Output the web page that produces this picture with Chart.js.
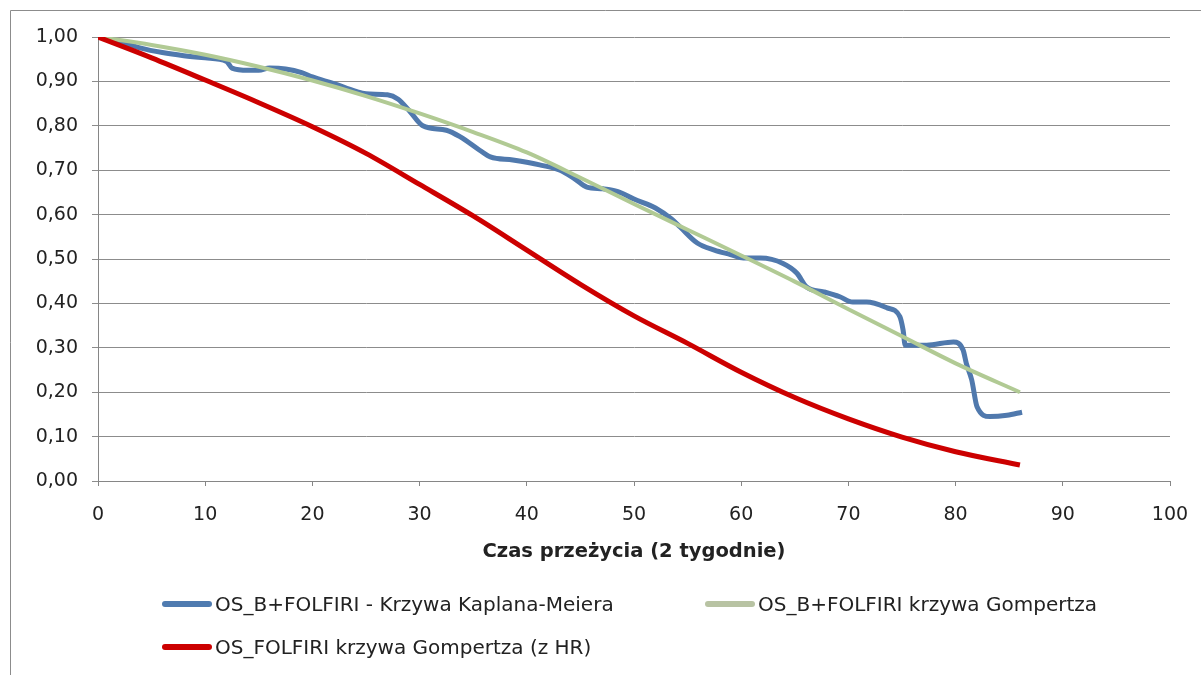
<!DOCTYPE html>
<html>
<head>
<meta charset="utf-8">
<script src="https://cdn.jsdelivr.net/npm/chart.js@4"></script>
<style>
  body { margin: 0; background: #fff; }
  #wrap { position: relative; width: 1201px; height: 675px; }
  #legend { position: absolute; left: 0; top: 0; font-family: 'DejaVu Sans', sans-serif; font-size: 20px; color: #222; }
  .item { position: absolute; display: flex; align-items: center; white-space: nowrap; }
  .swatch { width: 50px; height: 6px; border-radius: 3px; margin-right: 3px; }
</style>
</head>
<body>
<div id="wrap">
  <canvas id="survival" width="1201" height="675"></canvas>
  <div id="legend"></div>
</div>
<script>
// Kaplan-Meier OS for B+FOLFIRI
const kmTime = [0, 2, 4, 6, 8, 10, 12, 12.5, 14, 15, 16, 17.5, 19, 20, 22, 24, 25, 27, 28, 29, 30.3,
  32.5, 33.8, 35.6, 36.6, 38.7, 41.2, 43.1, 44.5, 45.6, 47.1, 48.5, 50, 52, 53.5, 54.3, 55.9, 57.5,
  59, 60.2, 61.8, 63.9, 65.2, 66.1, 67.7, 69.2, 70.4, 71.7, 73.6, 74.8, 75.1, 75.3, 77.3, 79.8,
  80.7, 81, 81.5, 82, 83.2, 84.8, 86.2];
const kmSurv = [1.00, 0.99, 0.975, 0.965, 0.958, 0.953, 0.945, 0.93, 0.925, 0.925, 0.93, 0.928, 0.92, 0.91,
  0.895, 0.878, 0.872, 0.87, 0.86, 0.835, 0.80, 0.79, 0.775, 0.745, 0.73, 0.723, 0.712, 0.70, 0.68,
  0.662, 0.658, 0.652, 0.635, 0.615, 0.59, 0.572, 0.536, 0.52, 0.51, 0.502, 0.502, 0.49, 0.468, 0.437,
  0.426, 0.415, 0.403, 0.403, 0.39, 0.37, 0.34, 0.306, 0.306, 0.313, 0.295, 0.265, 0.228, 0.167,
  0.145, 0.148, 0.155];

// Gompertz curves
const gompTime = [0, 5, 10, 15, 20, 25, 30, 35, 40, 45, 50, 55, 60, 65, 70, 75, 80, 86];
const gompBF = [1.00, 0.982, 0.960, 0.933, 0.902, 0.867, 0.828, 0.786, 0.740, 0.683, 0.624, 0.566,
  0.508, 0.449, 0.387, 0.326, 0.265, 0.20];
const gompF = [1.00, 0.953, 0.903, 0.852, 0.798, 0.738, 0.668, 0.597, 0.520, 0.443, 0.372, 0.310,
  0.245, 0.188, 0.140, 0.099, 0.066, 0.036];

const seriesNames = [
  'OS_B+FOLFIRI - Krzywa Kaplana-Meiera',
  'OS_B+FOLFIRI krzywa Gompertza',
  'OS_FOLFIRI krzywa Gompertza (z HR)'
];
const yTickLabels = ['0,00', '0,10', '0,20', '0,30', '0,40', '0,50', '0,60', '0,70', '0,80', '0,90', '1,00'];
const xTitle = 'Czas przeżycia (2 tygodnie)';

const pts = (xs, ys) => xs.map((x, i) => ({ x: x, y: ys[i] }));

const frame = {
  id: 'frame',
  beforeDraw(chart) {
    const c = chart.ctx;
    c.save();
    c.strokeStyle = '#8c8c8c';
    c.lineWidth = 1;
    c.beginPath();
    c.moveTo(10.5, 675);
    c.lineTo(10.5, 10.5);
    c.lineTo(1201, 10.5);
    c.stroke();
    c.restore();
  }
};

const ctx = document.getElementById('survival').getContext('2d');

const chart = new Chart(ctx, {
  type: 'scatter',
  data: {
    datasets: [{
      label: seriesNames[0],
      data: pts(kmTime, kmSurv),
      showLine: true,
      borderColor: '#5079ad',
      borderWidth: 5,
      pointRadius: 0,
      cubicInterpolationMode: 'monotone',
      order: 3
    }, {
      label: seriesNames[1],
      data: pts(gompTime, gompBF),
      showLine: true,
      borderColor: '#b1ca94',
      borderWidth: 4,
      pointRadius: 0,
      cubicInterpolationMode: 'monotone',
      order: 2
    }, {
      label: seriesNames[2],
      data: pts(gompTime, gompF),
      showLine: true,
      borderColor: '#cc0000',
      borderWidth: 5,
      pointRadius: 0,
      cubicInterpolationMode: 'monotone',
      order: 1
    }]
  },
  options: {
    responsive: false,
    animation: false,
    layout: { padding: { left: 10, right: 31, top: 37, bottom: 94 } },
    plugins: {
      legend: { display: false },
      tooltip: { enabled: false }
    },
    scales: {
      x: {
        type: 'linear',
        min: 0,
        max: 100,
        afterFit: s => { s.height = 100; s.paddingLeft = 0; s.paddingRight = 0; },
        ticks: {
          stepSize: 10,
          padding: 18,
          color: '#222',
          font: { family: 'DejaVu Sans', size: 19 }
        },
        grid: { drawOnChartArea: false, tickLength: 5, color: '#868686' },
        border: { color: '#868686' },
        title: {
          display: true,
          text: xTitle,
          color: '#222',
          font: { family: 'DejaVu Sans', size: 19.5, weight: 'bold' },
          padding: { top: 0, bottom: 17 }
        }
      },
      y: {
        min: 0,
        max: 1,
        afterFit: s => { s.width = 88; },
        ticks: {
          stepSize: 0.1,
          padding: 14,
          color: '#222',
          font: { family: 'DejaVu Sans', size: 19 },
          callback: (v, i) => yTickLabels[i]
        },
        grid: { color: '#8c8c8c', tickLength: 6 },
        border: { color: '#868686' }
      }
    }
  },
  plugins: [frame]
});

// legend below the chart, two rows like the original
const legendPos = [[162, 604], [705, 604], [162, 647]];
const swatchColors = ['#4f7bb0', '#b8c3a3', '#cc0000'];
const legend = document.getElementById('legend');
chart.data.datasets.forEach((ds, i) => {
  const item = document.createElement('div');
  item.className = 'item';
  item.style.left = legendPos[i][0] + 'px';
  item.style.top = (legendPos[i][1] - 12) + 'px';
  item.style.height = '24px';
  const sw = document.createElement('span');
  sw.className = 'swatch';
  sw.style.background = swatchColors[i];
  const txt = document.createElement('span');
  txt.textContent = ds.label;
  item.appendChild(sw);
  item.appendChild(txt);
  legend.appendChild(item);
});
</script>
</body>
</html>
